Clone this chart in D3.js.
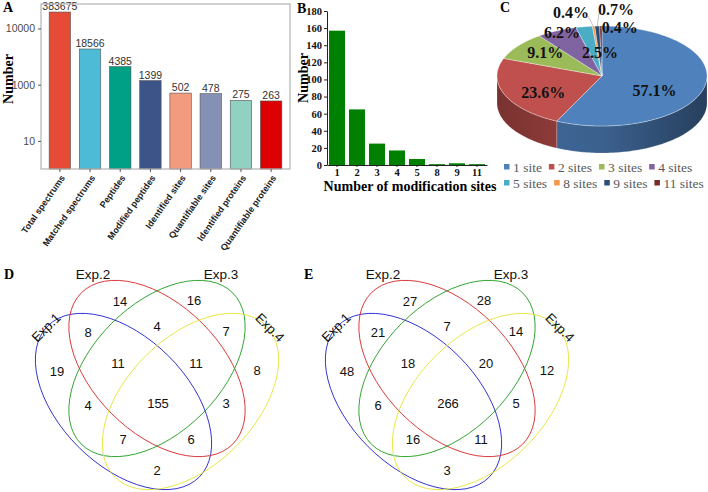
<!DOCTYPE html>
<html>
<head>
<meta charset="utf-8">
<script src="https://cdn.jsdelivr.net/npm/d3@7"></script>
<style>
body { margin: 0; background: #fff; }
svg { display: block; }
</style>
</head>
<body>
<svg id="fig" width="708" height="492"></svg>
<script>
// panel A
var categoriesA = ["Total spectrums", "Matched spectrums", "Peptides", "Modified peptides",
	"Identified sites", "Quantifiable sites", "Identified proteins", "Quantifiable proteins"];
var valuesA = [383675, 18566, 4385, 1399, 502, 478, 275, 263];
var colorsA = ["#E64B35", "#4DBBD5", "#00A087", "#3C5488", "#F39B7F", "#8491B4", "#91D1C2", "#DC0000"];
var tickValuesA = [10, 1000, 100000];
var tickLabelsA = ["10", "1000", "10000"];

// panel B / C
var sitesB = ["1", "2", "3", "4", "5", "8", "9", "11"];
var countsB = [157, 65, 25, 17, 7, 1, 2, 1];
var pieNames = ["1 site", "2 sites", "3 sites", "4 sites", "5 sites", "8 sites", "9 sites", "11 sites"];
var pieColors = ["#4F81BD", "#C0504D", "#9BBB59", "#8064A2", "#4BACC6", "#F79646", "#2C4D75", "#772C2A"];

// panels D / E (region order: 2, 3, 1&2, 2&3, 3&4, 1, 1&2&3, 2&3&4, 4, 1&3, all, 2&4, 1&3&4, 1&2&4, 1&4)
var vennSets = ["Exp.1", "Exp.2", "Exp.3", "Exp.4"];
var vennD = [14, 16, 8, 4, 7, 19, 11, 11, 8, 4, 155, 3, 7, 6, 2];
var vennE = [27, 28, 21, 7, 14, 48, 18, 20, 12, 6, 266, 5, 16, 11, 3];

var SERIF = "'Liberation Serif', 'Times New Roman', serif";
var SANS = "'Liberation Sans', Arial, sans-serif";

var svg = d3.select("#fig");
var defs = svg.append("defs");

function panelLabel(txt, x, y) {
	svg.append("text").attr("x", x).attr("y", y).text(txt)
		.style("font-family", SERIF).style("font-weight", "bold").style("font-size", "14px");
}

// ---------- A ----------
var gA = svg.append("g");
var xA = d3.scaleBand().domain(categoriesA).range([41, 290]).paddingInner(0.29).paddingOuter(0.27);
var yA = d3.scaleLog().domain([1, 7.4e5]).range([169, 4]);

gA.selectAll("rect.bar").data(valuesA).enter().append("rect")
	.attr("class", "bar")
	.attr("x", function(d, i) { return xA(categoriesA[i]); })
	.attr("width", xA.bandwidth())
	.attr("y", function(d) { return yA(d); })
	.attr("height", function(d) { return yA(1) - yA(d); })
	.style("fill", function(d, i) { return colorsA[i]; })
	.style("stroke", "#555").style("stroke-width", 0.6);

gA.selectAll("text.val").data(valuesA).enter().append("text")
	.attr("class", "val")
	.attr("x", function(d, i) { return xA(categoriesA[i]) + xA.bandwidth() / 2; })
	.attr("y", function(d) { return yA(d) - 2; })
	.attr("text-anchor", "middle")
	.text(function(d) { return d; })
	.style("font-family", SANS).style("font-size", "10.5px").style("fill", "#333");

gA.append("rect").attr("x", 41).attr("y", 4).attr("width", 249).attr("height", 165)
	.style("fill", "none").style("stroke", "#b3b3b3").style("stroke-width", 1.2);

var axA = gA.append("g").attr("transform", "translate(41,0)")
	.call(d3.axisLeft(yA).tickValues(tickValuesA)
		.tickFormat(function(d, i) { return tickLabelsA[i]; }).tickSize(3).tickSizeOuter(0));
axA.select(".domain").remove();
axA.selectAll("line").style("stroke", "#555");
axA.selectAll("text").style("font-family", SANS).style("font-size", "10.5px").style("fill", "#4d4d4d");

var axAx = gA.append("g").attr("transform", "translate(0,169)")
	.call(d3.axisBottom(xA).tickSize(3).tickSizeOuter(0));
axAx.select(".domain").remove();
axAx.selectAll("line").style("stroke", "#555");
axAx.selectAll("text")
	.attr("x", 0).attr("y", 0).attr("dy", "0.35em")
	.attr("transform", "translate(3,7) rotate(-55)")
	.attr("text-anchor", "end")
	.style("font-family", SANS).style("font-weight", "bold").style("font-size", "9px").style("fill", "#222");

gA.append("text").attr("transform", "translate(13,79) rotate(-90)").attr("text-anchor", "middle")
	.text("Number").style("font-family", SERIF).style("font-weight", "bold").style("font-size", "14px");
panelLabel("A", 3, 12);

// ---------- B ----------
var gB = svg.append("g");
var xB = d3.scaleBand().domain(sitesB).range([327, 487]).paddingInner(0.2).paddingOuter(0.1);
var yB = d3.scaleLinear().domain([0, 180]).range([165, 11]);

gB.selectAll("rect").data(countsB).enter().append("rect")
	.attr("x", function(d, i) { return xB(sitesB[i]); })
	.attr("width", xB.bandwidth())
	.attr("y", function(d) { return yB(d); })
	.attr("height", function(d) { return yB(0) - yB(d); })
	.style("fill", "#008000");

var axB = gB.append("g").attr("transform", "translate(327,0)")
	.call(d3.axisLeft(yB).tickValues(d3.range(0, 181, 20)).tickSize(3).tickSizeOuter(0).tickPadding(2));
var axBx = gB.append("g").attr("transform", "translate(0,165)")
	.call(d3.axisBottom(xB).tickSize(2).tickSizeOuter(0).tickPadding(2));
[axB, axBx].forEach(function(a) {
	a.selectAll("text").style("font-family", SERIF).style("font-weight", "bold").style("font-size", "10.5px").style("fill", "#111");
	a.selectAll("line, path").style("stroke", "#222");
});
gB.append("text").attr("transform", "translate(308,78) rotate(-90)").attr("text-anchor", "middle")
	.text("Number").style("font-family", SERIF).style("font-weight", "bold").style("font-size", "14px");
gB.append("text").attr("x", 410).attr("y", 191).attr("text-anchor", "middle")
	.text("Number of modification sites").style("font-family", SERIF).style("font-weight", "bold").style("font-size", "14px");
panelLabel("B", 297, 13);

// ---------- C ----------
var gC = svg.append("g");
var pcx = 602, pcy = 76, prx = 105, pry = 50, depth = 27;
var total = d3.sum(countsB);
var arcs = d3.pie().sort(null)(countsB);

function ept(a, dy) { return [pcx + prx * Math.sin(a), pcy - pry * Math.cos(a) + dy]; }
function arcPts(a0, a1, dy) {
	var n = Math.max(2, Math.ceil(Math.abs(a1 - a0) / 0.02)), pts = [];
	for (var i = 0; i <= n; i++) pts.push(ept(a0 + (a1 - a0) * i / n, dy));
	return pts;
}
var line = d3.line();

// side walls (front half only)
arcs.forEach(function(s, i) {
	var a0 = Math.max(s.startAngle, Math.PI / 2), a1 = Math.min(s.endAngle, 3 * Math.PI / 2);
	if (a0 >= a1) return;
	var c = d3.color(pieColors[i]);
	var g = defs.append("linearGradient").attr("id", "side" + i)
		.attr("gradientUnits", "userSpaceOnUse")
		.attr("x1", pcx - prx).attr("x2", pcx + prx).attr("y1", 0).attr("y2", 0);
	if (i === 0) {
		g.append("stop").attr("offset", 0).attr("stop-color", c.darker(0.6));
		g.append("stop").attr("offset", 0.5).attr("stop-color", c.darker(0.8));
		g.append("stop").attr("offset", 1).attr("stop-color", c.darker(2.0));
	} else {
		g.append("stop").attr("offset", 0).attr("stop-color", c.darker(1.3));
		g.append("stop").attr("offset", 0.5).attr("stop-color", c.darker(0.6));
		g.append("stop").attr("offset", 1).attr("stop-color", c.darker(0.6));
	}
	var pts = arcPts(a0, a1, 0).concat(arcPts(a1, a0, depth));
	gC.append("path").attr("d", line(pts) + "Z")
		.style("fill", "url(#side" + i + ")")
		.style("stroke", "#fff").style("stroke-opacity", 0.35).style("stroke-width", 0.5);
});

// top faces
arcs.forEach(function(s, i) {
	var pts = [[pcx, pcy]].concat(arcPts(s.startAngle, s.endAngle, 0));
	gC.append("path").attr("d", line(pts) + "Z")
		.style("fill", pieColors[i])
		.style("stroke", "#fff").style("stroke-opacity", 0.6).style("stroke-width", 0.6);
});

// labels (offsets in radius units)
var pieLabelPos = [[0.5, 0.28], [-0.56, 0.32], [-0.54, -0.48], [-0.38, -0.88], [-0.02, -0.48],
	[-0.295, -1.28], [0.133, -1.34], [0.17, -0.98]];
var leaderDX = [0, 0, 0, 0, 0, 17, -17, -17];
arcs.forEach(function(s, i) {
	var lx = pcx + pieLabelPos[i][0] * prx, ly = pcy + pieLabelPos[i][1] * pry;
	if (leaderDX[i] !== 0) {
		var mid = (s.startAngle + s.endAngle) / 2, e = ept(mid, 0);
		gC.append("line").attr("x1", lx + leaderDX[i]).attr("y1", ly + 4).attr("x2", e[0]).attr("y2", e[1] + 1)
			.style("stroke", "#a6a6a6").style("stroke-width", 0.7);
	}
	gC.append("text").attr("x", lx).attr("y", ly).attr("dy", "0.35em").attr("text-anchor", "middle")
		.text((countsB[i] / total * 100).toFixed(1) + "%")
		.style("font-family", SERIF).style("font-weight", "bold").style("font-size", "16px").style("fill", "#111");
});

// legend
var legRows = [[0, 1, 2, 3], [4, 5, 6, 7]];
legRows.forEach(function(row, r) {
	var x = 504, y = 167 + r * 16;
	row.forEach(function(i) {
		gC.append("rect").attr("x", x).attr("y", y - 3).attr("width", 5.5).attr("height", 5.5).style("fill", pieColors[i]);
		var t = gC.append("text").attr("x", x + 9).attr("y", y).attr("dy", "0.35em").text(pieNames[i])
			.style("font-family", SERIF).style("font-size", "13.5px").style("fill", "#595959");
		x += 9 + t.node().getComputedTextLength() + 7;
	});
});
panelLabel("C", 500, 12);

// ---------- D / E ----------
// ellipse centres relative to the venn centre, and region label offsets
var ellipseDefs = [
	{ dx: -33.5, dy: 33, rot: 45, color: "#2a2ad0" },
	{ dx: 0, dy: 0, rot: 45, color: "#d83030" },
	{ dx: 0, dy: 0, rot: -45, color: "#28a028" },
	{ dx: 33.5, dy: 33, rot: -45, color: "#e6e640" }
];
var regionPos = [[-37, -67], [37, -68], [-69, -36], [0, -42], [69, -37], [-100, 3], [-39, -5], [39, -5],
	[100, 2], [-69, 37], [1, 35], [69, 35], [-34, 71], [34, 71], [0, 102]];
var setLabelPos = [[-111, -41, -45], [-64, -94, 0], [64, -94, 0], [113, -41, 45]];

function drawVenn(cx, cy, counts) {
	var g = svg.append("g").attr("transform", "translate(" + cx + "," + cy + ")");
	ellipseDefs.forEach(function(e) {
		g.append("ellipse").attr("rx", 107).attr("ry", 64)
			.attr("transform", "translate(" + e.dx + "," + e.dy + ") rotate(" + e.rot + ")")
			.style("fill", "none").style("stroke", e.color).style("stroke-width", 0.9);
	});
	g.selectAll("text.n").data(counts).enter().append("text")
		.attr("class", "n")
		.attr("x", function(d, i) { return regionPos[i][0]; })
		.attr("y", function(d, i) { return regionPos[i][1]; })
		.attr("dy", "0.35em").attr("text-anchor", "middle")
		.text(function(d) { return d; })
		.style("font-family", SANS).style("font-size", "13px").style("fill", "#111");
	vennSets.forEach(function(s, i) {
		var p = setLabelPos[i];
		g.append("text").attr("transform", "translate(" + p[0] + "," + p[1] + ") rotate(" + p[2] + ")")
			.attr("dy", "0.35em").attr("text-anchor", "middle").text(s)
			.style("font-family", SANS).style("font-size", "13.5px").style("fill", "#111");
	});
}
drawVenn(157, 368.5, vennD);
drawVenn(447, 368.5, vennE);
panelLabel("D", 4, 279);
panelLabel("E", 304, 279);
</script>
</body>
</html>
